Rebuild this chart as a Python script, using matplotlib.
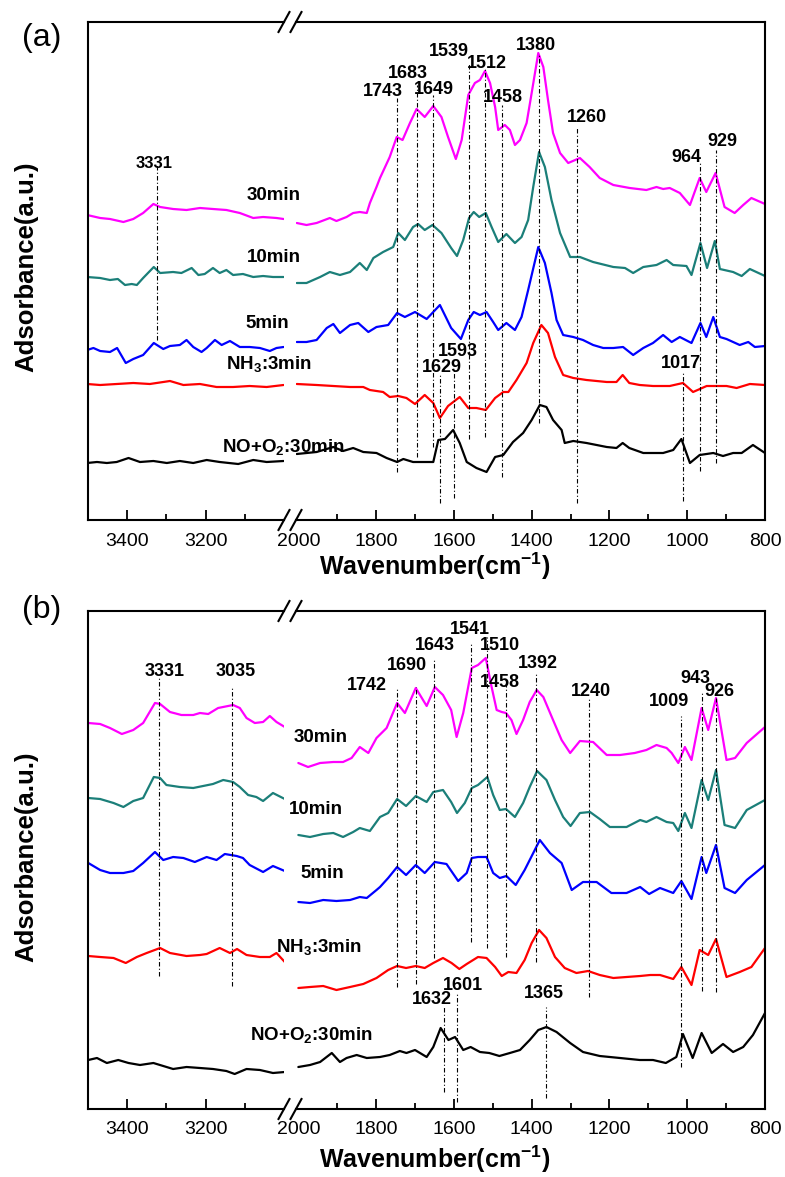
import matplotlib.pyplot as plt
from matplotlib.lines import Line2D

plt.rcParams['font.family'] = ['Liberation Sans', 'DejaVu Sans']
plt.rcParams['mathtext.fontset'] = 'custom'
plt.rcParams['mathtext.rm'] = 'Liberation Sans'
plt.rcParams['mathtext.bf'] = 'Liberation Sans:bold'

# ---------------- panel (a): wavenumber (cm-1) / absorbance (a.u., stacked)
a30_w = [3501, 3468, 3443, 3409, 3384, 3359, 3333, 3316, 3283, 3249, 3215, 3182, 3148, 3114, 3080, 3055, 3021, 3003,
         2004, 1979, 1953, 1919, 1902, 1876, 1859, 1842, 1824, 1816, 1799, 1790, 1765, 1747, 1732, 1713, 1696, 1675,
         1653, 1632, 1615, 1595, 1580, 1563, 1546, 1533, 1520, 1507, 1494, 1486, 1469, 1456, 1443, 1430, 1413, 1400,
         1383, 1370, 1358, 1345, 1327, 1306, 1276, 1251, 1225, 1190, 1148, 1105, 1079, 1062, 1045, 1019, 993, 968,
         951, 927, 904, 878, 856, 835, 800]
a30_y = [3.05, 3.02, 3.01, 2.98, 3.01, 3.07, 3.16, 3.13, 3.11, 3.10, 3.12, 3.11, 3.10, 3.07, 3.02, 3.03, 3.02, 3.01,
         2.97, 2.95, 2.97, 3.02, 2.99, 3.03, 3.07, 3.08, 3.07, 3.17, 3.33, 3.42, 3.63, 3.83, 3.80, 3.97, 4.11, 4.03,
         4.14, 4.03, 3.83, 3.61, 3.80, 4.25, 4.37, 4.40, 4.49, 4.37, 4.13, 3.90, 3.95, 3.90, 3.75, 3.80, 3.97, 4.27,
         4.67, 4.53, 4.20, 3.87, 3.67, 3.57, 3.62, 3.53, 3.42, 3.35, 3.32, 3.30, 3.33, 3.31, 3.32, 3.27, 3.15, 3.42,
         3.28, 3.47, 3.13, 3.07, 3.15, 3.22, 3.16]

a10_w = [3501, 3468, 3443, 3423, 3405, 3388, 3375, 3359, 3332, 3316, 3283, 3262, 3236, 3219, 3203, 3182, 3165, 3148,
         3131, 3106, 3080, 3055, 3030, 3003,
         2004, 1979, 1944, 1919, 1893, 1867, 1842, 1824, 1807, 1782, 1756, 1743, 1726, 1705, 1692, 1675, 1655, 1632,
         1607, 1592, 1576, 1561, 1549, 1535, 1518, 1503, 1486, 1465, 1443, 1426, 1409, 1396, 1381, 1366, 1349, 1327,
         1301, 1276, 1242, 1190, 1160, 1139, 1113, 1079, 1053, 1036, 1002, 989, 966, 949, 929, 916, 882, 860, 839, 800]
a10_y = [2.43, 2.42, 2.40, 2.41, 2.35, 2.36, 2.35, 2.42, 2.53, 2.47, 2.48, 2.47, 2.52, 2.45, 2.46, 2.52, 2.47, 2.50,
         2.45, 2.46, 2.43, 2.44, 2.43, 2.43,
         2.37, 2.37, 2.43, 2.48, 2.45, 2.48, 2.57, 2.50, 2.62, 2.68, 2.73, 2.87, 2.80, 2.93, 2.96, 2.90, 2.95, 2.87,
         2.72, 2.64, 2.80, 3.02, 3.08, 3.03, 3.07, 2.93, 2.78, 2.86, 2.77, 2.83, 3.00, 3.33, 3.68, 3.53, 3.20, 2.87,
         2.63, 2.63, 2.58, 2.53, 2.52, 2.47, 2.53, 2.55, 2.60, 2.55, 2.54, 2.45, 2.77, 2.52, 2.79, 2.51, 2.48, 2.44,
         2.51, 2.44]

a5_w = [3501, 3485, 3468, 3443, 3425, 3403, 3384, 3359, 3332, 3308, 3291, 3266, 3249, 3232, 3211, 3198, 3177, 3160,
        3139, 3114, 3089, 3063, 3038, 3021, 3003,
        2004, 1979, 1953, 1927, 1910, 1893, 1867, 1846, 1820, 1799, 1769, 1746, 1726, 1700, 1670, 1636, 1607, 1582,
        1563, 1549, 1533, 1516, 1499, 1486, 1465, 1443, 1426, 1409, 1383, 1366, 1349, 1336, 1319, 1293, 1268, 1242,
        1216, 1190, 1165, 1139, 1113, 1088, 1062, 1040, 1019, 989, 966, 951, 933, 916, 899, 865, 843, 826, 800]
a5_y = [1.70, 1.72, 1.69, 1.68, 1.72, 1.57, 1.61, 1.65, 1.77, 1.71, 1.74, 1.75, 1.80, 1.73, 1.68, 1.72, 1.80, 1.75,
        1.79, 1.73, 1.73, 1.72, 1.69, 1.72, 1.73,
        1.78, 1.78, 1.80, 1.92, 1.96, 1.87, 1.95, 1.97, 1.88, 1.93, 1.95, 2.07, 2.03, 2.08, 2.01, 2.15, 1.92, 1.81,
        2.00, 2.08, 2.05, 2.08, 1.98, 1.90, 1.97, 1.90, 2.03, 2.30, 2.73, 2.57, 2.27, 2.00, 1.85, 1.83, 1.80, 1.75,
        1.72, 1.72, 1.73, 1.65, 1.72, 1.77, 1.85, 1.78, 1.83, 1.77, 1.97, 1.83, 2.03, 1.83, 1.81, 1.75, 1.78, 1.73,
        1.74]

a3_w = [3501, 3468, 3426, 3384, 3342, 3291, 3257, 3215, 3173, 3131, 3089, 3046, 3003,
        2004, 1953, 1910, 1867, 1833, 1816, 1782, 1765, 1743, 1722, 1700, 1675, 1653, 1636, 1615, 1585, 1563, 1542,
        1518, 1494, 1473, 1460, 1439, 1413, 1396, 1375, 1358, 1340, 1319, 1293, 1259, 1207, 1182, 1166, 1149, 1122,
        1088, 1045, 1011, 985, 950, 899, 873, 839, 800]
a3_y = [1.36, 1.35, 1.36, 1.37, 1.36, 1.39, 1.35, 1.36, 1.33, 1.33, 1.34, 1.33, 1.35,
        1.36, 1.35, 1.34, 1.33, 1.33, 1.30, 1.28, 1.23, 1.24, 1.22, 1.16, 1.25, 1.17, 1.02, 1.14, 1.23, 1.12, 1.12,
        1.10, 1.22, 1.28, 1.28, 1.40, 1.57, 1.77, 1.95, 1.87, 1.63, 1.45, 1.42, 1.40, 1.38, 1.38, 1.45, 1.37, 1.35,
        1.34, 1.34, 1.37, 1.28, 1.34, 1.34, 1.32, 1.36, 1.35]

a0_w = [3501, 3476, 3451, 3426, 3396, 3367, 3333, 3299, 3266, 3232, 3198, 3165, 3118, 3080, 3046, 3003,
        2004, 1953, 1910, 1885, 1859, 1833, 1799, 1773, 1746, 1730, 1705, 1675, 1653, 1640, 1623, 1602, 1585, 1567,
        1542, 1516, 1494, 1473, 1448, 1422, 1400, 1379, 1362, 1345, 1323, 1315, 1293, 1259, 1207, 1182, 1166, 1149,
        1113, 1062, 1036, 1015, 993, 968, 933, 908, 882, 860, 831, 800]
a0_y = [0.57, 0.58, 0.57, 0.58, 0.62, 0.58, 0.59, 0.57, 0.59, 0.57, 0.60, 0.58, 0.56, 0.60, 0.58, 0.59,
        0.66, 0.68, 0.73, 0.69, 0.72, 0.68, 0.67, 0.62, 0.58, 0.61, 0.58, 0.58, 0.58, 0.80, 0.81, 0.90, 0.77, 0.58,
        0.52, 0.48, 0.63, 0.65, 0.78, 0.87, 1.00, 1.15, 1.13, 1.00, 0.90, 0.77, 0.79, 0.77, 0.73, 0.72, 0.77, 0.72,
        0.67, 0.67, 0.70, 0.81, 0.57, 0.65, 0.67, 0.64, 0.67, 0.67, 0.75, 0.67]

a_pk_lbl = ['3331', '1743', '1683', '1649', '1539', '1512', '1458', '1380', '1260', '964', '929', '1629', '1593', '1017']
a_pk_pos = [3325, 1746, 1696, 1653, 1561, 1520, 1477, 1381, 1283, 966, 925, 1636, 1600, 1012]
a_pk_top = [3.55, 4.22, 4.35, 4.25, 4.57, 4.52, 4.15, 4.65, 3.92, 3.58, 3.70, 1.45, 1.50, 1.48]
a_pk_bot = [1.80, 0.48, 0.63, 0.73, 0.81, 0.83, 0.43, 0.97, 0.17, 0.49, 0.57, 0.17, 0.22, 0.19]

# ---------------- panel (b)
b30_w = [3498, 3468, 3443, 3413, 3384, 3359, 3329, 3316, 3291, 3262, 3232, 3215, 3194, 3169, 3131, 3114, 3097, 3076,
         3055, 3038, 3021, 3000,
         2000, 1975, 1944, 1910, 1885, 1863, 1842, 1820, 1799, 1773, 1746, 1726, 1698, 1670, 1649, 1628, 1607, 1593,
         1576, 1554, 1538, 1518, 1503, 1490, 1477, 1466, 1452, 1439, 1422, 1405, 1387, 1370, 1345, 1323, 1301, 1276,
         1242, 1207, 1173, 1135, 1105, 1079, 1053, 1040, 1023, 1006, 989, 963, 946, 926, 899, 877, 847, 800]
b30_y = [3.86, 3.85, 3.81, 3.75, 3.79, 3.86, 4.06, 4.05, 3.97, 3.94, 3.94, 3.96, 3.95, 4.01, 4.04, 4.01, 3.91, 3.86,
         3.87, 3.93, 3.87, 3.82,
         3.46, 3.42, 3.46, 3.47, 3.47, 3.51, 3.62, 3.56, 3.71, 3.81, 4.06, 3.96, 4.21, 4.03, 4.22, 4.14, 3.99, 3.72,
         3.96, 4.41, 4.44, 4.51, 4.22, 3.99, 3.97, 3.96, 3.89, 3.75, 3.89, 4.07, 4.19, 4.12, 3.89, 3.69, 3.56, 3.68,
         3.67, 3.54, 3.54, 3.56, 3.59, 3.64, 3.61, 3.56, 3.46, 3.62, 3.49, 4.01, 3.79, 4.11, 3.49, 3.51, 3.66, 3.82]

b10_w = [3498, 3468, 3434, 3409, 3384, 3359, 3332, 3316, 3300, 3266, 3232, 3207, 3182, 3156, 3131, 3114, 3093, 3072,
         3055, 3030, 3000,
         2000, 1970, 1936, 1910, 1885, 1859, 1842, 1816, 1790, 1769, 1746, 1723, 1698, 1670, 1653, 1628, 1607, 1592,
         1572, 1554, 1538, 1514, 1499, 1482, 1466, 1443, 1422, 1405, 1386, 1362, 1340, 1319, 1300, 1276, 1250, 1225,
         1199, 1156, 1121, 1105, 1079, 1053, 1036, 1023, 1006, 989, 963, 946, 926, 904, 877, 847, 800]
b10_y = [3.11, 3.10, 3.06, 3.02, 3.08, 3.11, 3.32, 3.31, 3.24, 3.22, 3.21, 3.23, 3.25, 3.29, 3.27, 3.22, 3.14, 3.12,
         3.08, 3.16, 3.10,
         2.74, 2.72, 2.75, 2.76, 2.72, 2.77, 2.81, 2.78, 2.92, 2.96, 3.10, 3.03, 3.13, 3.07, 3.17, 3.19, 3.07, 2.96,
         3.06, 3.21, 3.24, 3.32, 3.14, 2.99, 3.00, 2.92, 3.06, 3.22, 3.38, 3.29, 3.09, 2.92, 2.83, 2.96, 2.97, 2.90,
         2.82, 2.82, 2.89, 2.87, 2.92, 2.87, 2.86, 2.78, 2.96, 2.81, 3.29, 3.09, 3.39, 2.84, 2.81, 2.99, 3.09]

b5_w = [3498, 3468, 3443, 3409, 3384, 3359, 3329, 3308, 3283, 3257, 3228, 3198, 3173, 3152, 3122, 3106, 3089, 3055,
        3030, 3000,
        2000, 1970, 1936, 1902, 1867, 1842, 1824, 1799, 1790, 1769, 1746, 1723, 1698, 1675, 1649, 1619, 1589, 1567,
        1554, 1538, 1516, 1499, 1482, 1465, 1441, 1418, 1379, 1353, 1323, 1297, 1268, 1233, 1195, 1156, 1121, 1098,
        1070, 1036, 1015, 989, 963, 951, 926, 904, 877, 847, 800]
b5_y = [2.46, 2.39, 2.36, 2.36, 2.38, 2.46, 2.57, 2.49, 2.52, 2.51, 2.47, 2.52, 2.49, 2.55, 2.53, 2.51, 2.44, 2.37,
        2.43, 2.38,
        2.07, 2.06, 2.09, 2.08, 2.09, 2.12, 2.11, 2.19, 2.22, 2.31, 2.42, 2.34, 2.44, 2.36, 2.47, 2.45, 2.28, 2.36,
        2.51, 2.52, 2.52, 2.36, 2.31, 2.33, 2.24, 2.39, 2.69, 2.56, 2.46, 2.19, 2.27, 2.27, 2.16, 2.16, 2.22, 2.15,
        2.21, 2.16, 2.28, 2.10, 2.52, 2.36, 2.64, 2.21, 2.16, 2.29, 2.44]

b3_w = [3498, 3468, 3434, 3403, 3375, 3350, 3316, 3291, 3249, 3215, 3198, 3165, 3139, 3121, 3097, 3063, 3038, 3021,
        3000,
        2000, 1970, 1936, 1902, 1867, 1833, 1799, 1769, 1746, 1723, 1698, 1675, 1653, 1628, 1606, 1586, 1567, 1538,
        1516, 1494, 1477, 1460, 1439, 1418, 1400, 1381, 1362, 1340, 1315, 1285, 1255, 1225, 1190, 1156, 1121, 1095,
        1070, 1036, 1015, 989, 968, 946, 926, 899, 865, 835, 800]
b3_y = [1.53, 1.52, 1.51, 1.46, 1.52, 1.56, 1.61, 1.56, 1.53, 1.54, 1.55, 1.61, 1.56, 1.60, 1.54, 1.52, 1.52, 1.56,
        1.47,
        1.21, 1.22, 1.23, 1.19, 1.22, 1.25, 1.31, 1.39, 1.43, 1.41, 1.43, 1.41, 1.46, 1.51, 1.46, 1.40, 1.45, 1.52,
        1.51, 1.42, 1.33, 1.37, 1.36, 1.49, 1.66, 1.79, 1.71, 1.52, 1.41, 1.36, 1.38, 1.34, 1.31, 1.32, 1.33, 1.34,
        1.34, 1.30, 1.42, 1.24, 1.59, 1.54, 1.70, 1.32, 1.37, 1.42, 1.61]

b0_w = [3498, 3476, 3451, 3422, 3396, 3367, 3333, 3308, 3283, 3249, 3215, 3182, 3148, 3127, 3097, 3063, 3030, 3000,
        2000, 1970, 1944, 1914, 1893, 1876, 1850, 1824, 1790, 1765, 1739, 1722, 1700, 1670, 1653, 1634, 1614, 1597,
        1576, 1557, 1533, 1509, 1483, 1456, 1430, 1405, 1383, 1362, 1336, 1301, 1268, 1225, 1173, 1122, 1088, 1055,
        1028, 1011, 986, 963, 937, 908, 882, 856, 831, 800]
b0_y = [0.49, 0.51, 0.46, 0.49, 0.46, 0.44, 0.46, 0.43, 0.40, 0.42, 0.41, 0.40, 0.38, 0.35, 0.40, 0.39, 0.36, 0.37,
        0.42, 0.44, 0.47, 0.56, 0.47, 0.51, 0.54, 0.51, 0.52, 0.54, 0.58, 0.56, 0.59, 0.52, 0.62, 0.81, 0.69, 0.72,
        0.59, 0.62, 0.57, 0.56, 0.53, 0.56, 0.59, 0.69, 0.79, 0.82, 0.77, 0.66, 0.57, 0.53, 0.51, 0.49, 0.49, 0.46,
        0.52, 0.75, 0.51, 0.76, 0.56, 0.65, 0.57, 0.62, 0.74, 0.96]

b_pk_lbl = ['3331', '3035', '1742', '1690', '1643', '1541', '1510', '1458', '1392', '1240', '1009', '943', '926',
            '1632', '1601', '1365']
b_pk_pos = [3318, 3133, 1746, 1698, 1651, 1556, 1514, 1467, 1390, 1252, 1016, 963, 925, 1626, 1592, 1362]
b_pk_top = [4.31, 4.22, 4.22, 4.22, 4.49, 4.67, 4.72, 4.29, 4.37, 4.11, 3.93, 4.17, 4.11, 1.02, 1.17, 1.02]
b_pk_bot = [1.33, 1.23, 1.22, 1.25, 1.51, 1.67, 1.61, 1.52, 1.47, 1.12, 0.42, 1.18, 1.17, 0.17, 0.07, 0.11]

names = ['30min', '10min', '5min', r'NH$_\mathbf{3}$:3min', r'NO+O$_\mathbf{2}$:30min']
colors = ['#ff00ff', '#1b7f79', '#0000ff', '#ff0000', '#000000']

# ---------------- layout (label anchor points, in axis units)
a_lbl_xy = [(3332, 3.57), (1783, 4.28), (1718, 4.46), (1651, 4.30), (1613, 4.68), (1516, 4.57), (1474, 4.22),
            (1390, 4.74), (1258, 4.02), (1001, 3.63), (909, 3.78), (1632, 1.53), (1590, 1.69), (1016, 1.56)]
b_lbl_xy = [(3304, 4.37), (3125, 4.38), (1823, 4.24), (1722, 4.44), (1648, 4.63), (1560, 4.79), (1482, 4.64),
            (1482, 4.27), (1385, 4.45), (1247, 4.17), (1048, 4.07), (979, 4.31), (918, 4.17), (1657, 1.09),
            (1576, 1.23), (1369, 1.15)]
a_name_xy = [(3028, 3.24), (3028, 2.63), (3044, 1.97), (3041, 1.55), (3003, 0.72)]
b_name_xy = [(1942, 3.72), (1955, 3.00), (1939, 2.35), (1947, 1.61), (1966, 0.73)]

W, H = 785, 1177
fig = plt.figure(figsize=(W / 100, H / 100), dpi=100)


def px_axes(x0, x1, y0, y1):
    return fig.add_axes([x0 / W, 1 - y1 / H, (x1 - x0) / W, (y1 - y0) / H])


def slash(cx, cy):
    fig.add_artist(Line2D([(cx - 5.5) / W, (cx + 5.5) / W], [1 - (cy + 10) / H, 1 - (cy - 10) / H],
                          color='k', lw=1.5))


def draw_panel(top, bottom, spectra, pk_pos, pk_top, pk_bot, pk_lbl, lbl_xy, name_xy, small_left):
    axl = px_axes(87.5, 284, top, bottom)
    axr = px_axes(296, 765, top, bottom)
    for ax in (axl, axr):
        ax.patch.set_visible(False)
        ax.set_ylim(0, 4.98)
        ax.set_yticks([])
        for s in ax.spines.values():
            s.set_linewidth(1.5)
        ax.tick_params(axis='x', which='major', direction='in', length=7, width=1.3, labelsize=14, pad=9)
        ax.tick_params(axis='x', which='minor', direction='in', length=4, width=1.3)
    axl.spines['right'].set_visible(False)
    axr.spines['left'].set_visible(False)
    axl.set_xlim(3500, 3002)
    axr.set_xlim(2006, 800)
    axl.set_xticks([3400, 3200])
    axl.set_xticks([3300, 3100], minor=True)
    axr.set_xticks([2000, 1800, 1600, 1400, 1200, 1000, 800])
    axr.set_xticks([1900, 1700, 1500, 1300, 1100, 900], minor=True)
    axr.xaxis.get_major_ticks()[0].tick1line.set_visible(False)

    for (w, y), c in zip(spectra, colors):
        hi = [(a, b) for a, b in zip(w, y) if a > 2500]
        lo = [(a, b) for a, b in zip(w, y) if a <= 2500]
        axl.plot([p[0] for p in hi], [p[1] for p in hi], color=c, lw=1.6,
                 solid_joinstyle='round', solid_capstyle='round')
        axr.plot([p[0] for p in lo], [p[1] for p in lo], color=c, lw=1.6,
                 solid_joinstyle='round', solid_capstyle='round')

    for p, t, b, s, (lx, ly) in zip(pk_pos, pk_top, pk_bot, pk_lbl, lbl_xy):
        ax = axl if p > 2500 else axr
        ax.vlines(p, b, t, colors='k', linestyles=(0, (4, 2, 1, 2)), lw=0.8)
        fs = 12 if (small_left and p > 2500) else 13
        ax.text(lx, ly, s, ha='center', va='center', fontsize=fs, fontweight='bold', clip_on=False)

    for nm, (nx, ny) in zip(names, name_xy):
        ax = axl if nx > 2500 else axr
        ax.text(nx, ny, nm, ha='center', va='center', fontsize=13.5, fontweight='bold', clip_on=False)

    for cy in (top, bottom):
        slash(284, cy)
        slash(296, cy)


draw_panel(22, 520, [(a30_w, a30_y), (a10_w, a10_y), (a5_w, a5_y), (a3_w, a3_y), (a0_w, a0_y)],
           a_pk_pos, a_pk_top, a_pk_bot, a_pk_lbl, a_lbl_xy, a_name_xy, True)
draw_panel(611, 1109, [(b30_w, b30_y), (b10_w, b10_y), (b5_w, b5_y), (b3_w, b3_y), (b0_w, b0_y)],
           b_pk_pos, b_pk_top, b_pk_bot, b_pk_lbl, b_lbl_xy, b_name_xy, False)

for yc in (267, 857):
    fig.text(26 / W, 1 - yc / H, 'Adsorbance(a.u.)', rotation=90, ha='center', va='center',
             fontsize=18.5, fontweight='bold')
for yb in (575, 1168):
    fig.text(435 / W, 1 - yb / H, r'Wavenumber(cm$^{\mathbf{-1}}$)', ha='center', va='baseline',
             fontsize=18, fontweight='bold')
fig.text(42 / W, 1 - 38 / H, '(a)', ha='center', va='center', fontsize=23)
fig.text(42 / W, 1 - 610 / H, '(b)', ha='center', va='center', fontsize=23)

fig.savefig('out.png', dpi=100)
